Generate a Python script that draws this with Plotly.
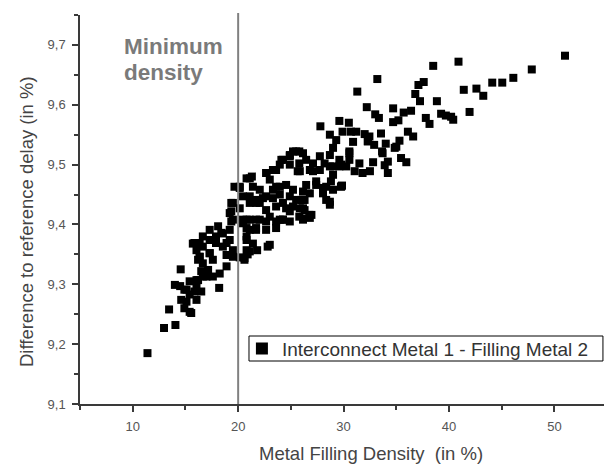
import plotly.graph_objects as go

# Metal filling density (%) and difference to reference delay (%)
density = [
    51.0, 47.85, 46.1, 45.05, 44.1, 43.25, 42.6, 41.4, 40.9, 41.95, 40.4, 40.2, 39.7, 39.25, 38.5, 38.85,
    37.6, 37.1, 36.8, 37.25, 37.8, 38.15, 36.4, 35.7, 35.2, 34.7, 34.7, 33.2, 31.3, 32.2, 33.0, 33.35,
    36.1, 36.6, 35.3, 35.0, 33.55, 34.0, 33.65, 35.45, 35.95, 34.2, 33.9, 34.2, 32.8, 32.5, 30.9, 30.55,
    29.6, 30.5, 27.8, 28.7, 29.3, 29.9, 30.7, 31.2, 32.0, 32.45, 32.3, 29.0, 28.7, 28.2, 30.55, 30.25,
    29.6, 31.05, 31.5, 31.8, 29.0, 29.85, 28.7, 28.35, 26.15, 26.3, 26.95, 26.15, 27.75, 27.1, 26.45, 25.8,
    27.1, 27.4, 26.45, 29.0, 28.05, 26.8,
    25.2, 25.8, 24.9, 24.25, 23.95, 25.65, 26.8, 27.75, 28.7, 29.6, 23.3, 22.7, 23.0, 21.1, 21.4, 22.05,
    23.6, 24.55, 25.2, 26.15, 27.4, 28.35, 28.8, 28.05, 28.7, 29.75, 20.15, 20.45, 21.1, 21.7, 22.65, 23.95,
    24.9, 26.0, 26.15, 25.8, 24.9, 23.95, 23.0, 22.05, 21.1, 20.45, 21.7, 20.8, 21.4, 23.0, 24.25, 26.75,
    22.05, 22.65, 23.6, 24.55, 25.2,
    19.35, 19.2, 19.35, 19.2, 20.8, 21.1, 20.8, 21.1, 20.6, 19.5, 18.9, 18.25, 17.6, 17.15, 16.65, 16.35,
    16.05, 16.35, 16.65, 17.3, 18.1, 18.4, 18.9, 17.9, 17.3, 17.6, 16.65, 16.2, 16.05, 15.4, 15.1, 14.55,
    15.7, 18.2, 14.0, 14.5,
    11.4, 12.97, 13.45, 14.05, 16.2, 16.5, 17.0, 16.05, 15.4, 14.9, 15.85, 16.5, 14.6, 15.1, 16.05, 14.9,
    15.4, 15.55, 20.15, 20.9, 21.8, 22.8,
    19.65, 20.15, 20.8, 21.3, 22.65, 23.6, 24.1, 24.9, 25.5, 26.15, 24.9, 25.85, 19.5, 19.35, 20.15, 21.1,
    21.7, 22.35, 23.3, 23.95, 23.3, 24.25, 25.5, 26.3, 24.9, 25.85, 26.8, 26.15, 19.5, 20.45, 21.7, 22.65,
    23.6, 24.25, 20.8, 21.7, 22.65, 23.6, 15.85, 16.65, 17.3, 17.9, 18.55, 19.2, 18.55, 19.5, 20.8, 17.3,
    16.35, 18.9, 20.6,
    34.85, 33.7, 32.3, 32.9, 30.55, 29.0, 29.8, 29.8,
]
delay = [
    9.682, 9.659, 9.645, 9.637, 9.637, 9.615, 9.627, 9.625, 9.672, 9.588, 9.575, 9.58, 9.582, 9.585, 9.665, 9.606,
    9.638, 9.633, 9.618, 9.606, 9.578, 9.568, 9.59, 9.587, 9.574, 9.571, 9.594, 9.643, 9.622, 9.596, 9.584, 9.578,
    9.555, 9.547, 9.54, 9.53, 9.552, 9.535, 9.522, 9.511, 9.504, 9.505, 9.499, 9.486, 9.504, 9.489, 9.538, 9.522,
    9.573, 9.57, 9.564, 9.55, 9.541, 9.555, 9.555, 9.555, 9.551, 9.547, 9.539, 9.528, 9.516, 9.502, 9.508, 9.497,
    9.508, 9.489, 9.502, 9.486, 9.483, 9.465, 9.433, 9.441, 9.441, 9.424, 9.416, 9.41, 9.514, 9.502, 9.508, 9.502,
    9.489, 9.472, 9.466, 9.458, 9.461, 9.452,
    9.522, 9.522, 9.514, 9.508, 9.5, 9.489, 9.491, 9.491, 9.497, 9.497, 9.491, 9.486, 9.475, 9.477, 9.463, 9.458,
    9.463, 9.466, 9.458, 9.455, 9.466, 9.463, 9.472, 9.452, 9.438, 9.463, 9.463, 9.447, 9.436, 9.441, 9.447, 9.45,
    9.447, 9.441, 9.427, 9.413, 9.405, 9.408, 9.413, 9.408, 9.408, 9.402, 9.391, 9.38, 9.368, 9.366, 9.408, 9.416,
    9.436, 9.424, 9.43, 9.427, 9.43,
    9.436, 9.419, 9.405, 9.391, 9.408, 9.391, 9.374, 9.355, 9.341, 9.346, 9.33, 9.318, 9.313, 9.324, 9.335, 9.346,
    9.357, 9.369, 9.38, 9.391, 9.397, 9.386, 9.369, 9.369, 9.352, 9.341, 9.313, 9.307, 9.296, 9.305, 9.291, 9.325,
    9.368, 9.294, 9.299, 9.297,
    9.185, 9.227, 9.258, 9.232, 9.341, 9.322, 9.313, 9.307, 9.283, 9.291, 9.288, 9.288, 9.274, 9.271, 9.274, 9.26,
    9.254, 9.252, 9.345, 9.35, 9.357, 9.363,
    9.463, 9.461, 9.477, 9.48, 9.486, 9.491, 9.508, 9.516, 9.522, 9.519, 9.5, 9.489, 9.436, 9.422, 9.427, 9.447,
    9.436, 9.444, 9.458, 9.463, 9.444, 9.436, 9.441, 9.441, 9.422, 9.427, 9.411, 9.408, 9.408, 9.408, 9.408, 9.405,
    9.405, 9.408, 9.394, 9.394, 9.391, 9.394, 9.369, 9.363, 9.374, 9.38, 9.385, 9.374, 9.363, 9.357, 9.357, 9.352,
    9.346, 9.349, 9.344,
    9.528, 9.519, 9.539, 9.533, 9.519, 9.497, 9.5, 9.464,
]

series_name = "Interconnect Metal 1 - Filling Metal 2"
x_title = "Metal Filling Density  (in %)"
y_title = "Difference to reference delay (in %)"
x_ticks = [10, 20, 30, 40, 50]
y_ticks = [9.1, 9.2, 9.3, 9.4, 9.5, 9.6, 9.7]
min_density = 20

FONT = "Liberation Sans, Arial, sans-serif"
AXIS_COLOR = "#3a3a3a"
TITLE_COLOR = "#444444"

fig = go.Figure()
fig.add_trace(go.Scatter(
    x=density, y=delay, mode="markers", name=series_name,
    marker=dict(symbol="square", size=8, color="#000000", line=dict(width=0)),
    showlegend=True,
))

# minimum density reference line
fig.add_shape(type="line", xref="x", yref="paper", x0=min_density, x1=min_density,
              y0=0, y1=1.005, line=dict(color="#808080", width=2))

# legend frame
fig.add_shape(type="rect", xref="paper", yref="paper", x0=0.3225, x1=0.998, y0=0.1105, y1=0.1748,
              line=dict(color="#000000", width=1), fillcolor="rgba(0,0,0,0)")

label_font = dict(family=FONT, size=22.5, color="#7a7a7a", weight="bold")
fig.add_annotation(text="Minimum", xref="paper", yref="paper", x=0.0792, y=0.9563,
                   xanchor="left", yanchor="top", showarrow=False, align="left", font=label_font)
fig.add_annotation(text="density", xref="paper", yref="paper", x=0.0792, y=0.8902,
                   xanchor="left", yanchor="top", showarrow=False, align="left", font=label_font)

# axis titles
fig.add_annotation(text=x_title, xref="paper", yref="paper", x=0.556, y=-0.1265,
                   xanchor="center", yanchor="middle", showarrow=False,
                   font=dict(family=FONT, size=18.5, color=TITLE_COLOR))
fig.add_annotation(text=y_title, xref="paper", yref="paper", x=-0.101, y=0.468,
                   xanchor="center", yanchor="middle", showarrow=False, textangle=-90,
                   font=dict(family=FONT, size=18.5, color=TITLE_COLOR))

axis_common = dict(
    showgrid=False, zeroline=False, showline=True, linecolor=AXIS_COLOR, linewidth=1.5,
    ticks="outside", ticklen=6, tickwidth=1.5, tickcolor=AXIS_COLOR,
    tickfont=dict(family=FONT, size=13, color="#555555"),
    ticklabelstandoff=4,
    mirror=False,
)

fig.update_layout(
    template="none",
    width=604, height=464,
    margin=dict(l=80, r=0, t=15, b=60),
    paper_bgcolor="white", plot_bgcolor="white",
    separators=", ",
    font=dict(family=FONT, color=TITLE_COLOR),
    xaxis=dict(range=[5, 54.7], tickvals=x_ticks,
               minor=dict(ticks="outside", ticklen=4, tickwidth=1.5, tickcolor=AXIS_COLOR, dtick=5, tick0=5),
               **axis_common),
    yaxis=dict(range=[9.1, 9.75], tickvals=y_ticks, tickformat=".1f",
               minor=dict(ticks="outside", ticklen=4, tickwidth=1.5, tickcolor=AXIS_COLOR, dtick=0.05, tick0=9.05),
               **axis_common),
    legend=dict(x=0.309, y=0.1426, xanchor="left", yanchor="middle",
                borderwidth=0, bgcolor="rgba(0,0,0,0)",
                font=dict(family=FONT, size=19, color="#333333"),
                itemsizing="constant", tracegroupgap=0),
    showlegend=True,
)

fig.write_html("out.html")
